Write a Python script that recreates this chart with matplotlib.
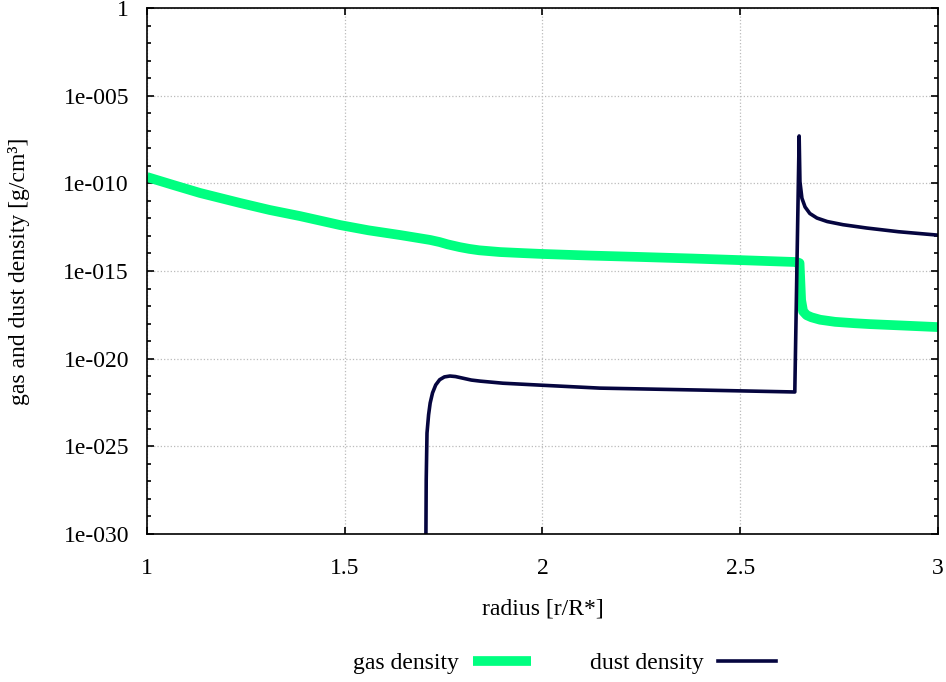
#!/usr/bin/env python3
"""Gas and dust density profiles vs radius."""
import numpy as np
import matplotlib.pyplot as plt
from matplotlib.ticker import FixedLocator, FuncFormatter, MultipleLocator

plt.rcParams['font.family'] = ['Liberation Serif', 'DejaVu Serif']

# values (log10 of density)
gas_r = [1.0, 1.07, 1.134, 1.235, 1.31, 1.387, 1.488, 1.56, 1.640, 1.716, 1.740, 1.760, 1.791,
         1.815, 1.840, 1.893, 1.95, 2.001, 2.12, 2.247, 2.38, 2.499, 2.643, 2.650, 2.654,
         2.659, 2.668, 2.680, 2.702, 2.74, 2.79, 2.828, 2.9, 3.0]
gas_log = [-9.64, -10.12, -10.55, -11.12, -11.52, -11.87, -12.38, -12.68, -12.95, -13.23,
           -13.35, -13.48, -13.64, -13.74, -13.82, -13.92, -13.98, -14.03, -14.12, -14.20,
           -14.29, -14.38, -14.49, -14.55, -16.66, -17.30, -17.52, -17.64, -17.78, -17.90,
           -17.98, -18.03, -18.10, -18.2]

dust_r = [1.705, 1.706, 1.708, 1.712, 1.716, 1.722, 1.730, 1.740, 1.752, 1.766, 1.780, 1.800,
          1.820, 1.842, 1.900, 1.994, 2.145, 2.398, 2.638, 2.649, 2.651, 2.656, 2.664, 2.676,
          2.694, 2.720, 2.760, 2.820, 2.900, 2.997]
dust_log = [-31.0, -26.9, -24.24, -23.2, -22.53, -21.95, -21.5, -21.2, -21.04, -20.99, -21.02,
            -21.12, -21.22, -21.28, -21.40, -21.51, -21.68, -21.79, -21.9, -7.30, -9.9, -10.85,
            -11.35, -11.72, -11.98, -12.18, -12.36, -12.55, -12.76, -12.95]


def fmt(v, pos):
    e = int(round(np.log10(v)))
    if e == 0:
        return "1"
    return "1e-%03d" % (-e)


def main():
    fig = plt.figure(figsize=(9.46, 6.82), dpi=100)
    ax = fig.add_axes([0.1554, 0.217, 0.8361, 0.7713])

    ax.plot(gas_r, 10.0 ** np.array(gas_log), color='#00ff80', lw=7,
            solid_capstyle='butt', label='gas density')
    ax.plot(dust_r, 10.0 ** np.array(dust_log), color='#05053f', lw=2.6,
            label='dust density')

    ax.set_yscale('log')
    ax.set_xlim(1, 3)
    ax.set_ylim(1e-30, 1)
    ax.xaxis.set_major_locator(MultipleLocator(0.5))
    ax.xaxis.set_major_formatter(FuncFormatter(lambda v, p: "%g" % v))
    ax.yaxis.set_major_locator(FixedLocator([10.0 ** -k for k in range(0, 31, 5)]))
    ax.yaxis.set_minor_locator(FixedLocator([10.0 ** -k for k in range(0, 31)]))
    ax.yaxis.set_major_formatter(FuncFormatter(fmt))
    ax.yaxis.set_minor_formatter(FuncFormatter(lambda v, p: ""))

    ax.tick_params(which='both', direction='in', top=True, right=True,
                   labelsize=17, width=1.2)
    ax.tick_params(axis='y', pad=13)
    ax.tick_params(axis='x', pad=17)
    ax.tick_params(which='major', length=5)
    ax.tick_params(which='minor', length=3)
    ax.grid(True, which='major', color='#bbbbbb', linestyle=':', lw=0.9)
    for s in ax.spines.values():
        s.set_linewidth(1.2)

    ax.set_xlabel('radius [r/R*]', fontsize=17, labelpad=14)
    ax.set_ylabel('gas and dust density [g/cm³]', fontsize=17, labelpad=24)

    fig.legend(loc='center', bbox_to_anchor=(0.597, 0.027), ncol=2, frameon=False,
               fontsize=17, markerfirst=False, handlelength=2.45,
               handletextpad=0.6, columnspacing=2.5)

    fig.savefig('out.png', dpi=100)
    plt.close(fig)


if __name__ == "__main__":
    main()
